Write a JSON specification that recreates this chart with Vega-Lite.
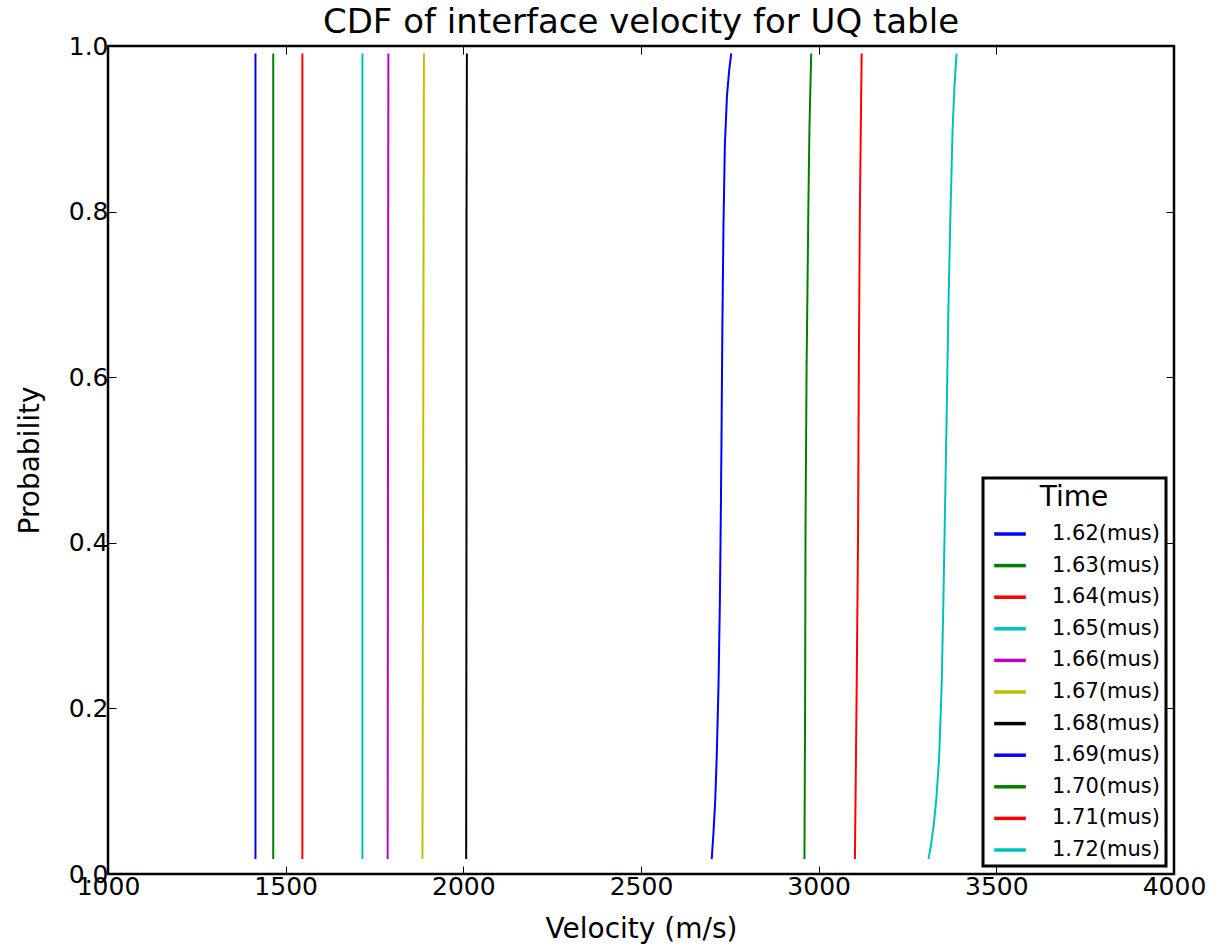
{
  "$schema": "https://vega.github.io/schema/vega-lite/v6.json",
  "autosize": {"type": "none"},
  "width": 1066,
  "height": 828,
  "padding": {"left": 108, "top": 46, "right": 45, "bottom": 72},
  "background": "white",
  "title": {"text": "CDF of interface velocity for UQ table", "font": "DejaVu Sans", "fontSize": 34, "fontWeight": "normal", "color": "black", "offset": -6, "anchor": "middle"},
  "config": {
    "font": "DejaVu Sans",
    "view": {"stroke": "black", "strokeWidth": 2.5},
    "axis": {"labelFont": "DejaVu Sans", "labelFontSize": 25, "labelColor": "black", "titleFont": "DejaVu Sans", "titleFontSize": 28, "titleFontWeight": "normal", "titleColor": "black", "grid": false, "domain": false, "tickColor": "black", "tickWidth": 1, "tickSize": -8, "labelPadding": 8, "labelFlush": false, "labelOverlap": false}
  },
  "data": {"values": [
    {"series": "1.62(mus)", "v": 1415, "p": 0.018}, {"series": "1.62(mus)", "v": 1415, "p": 0.991},
    {"series": "1.63(mus)", "v": 1465, "p": 0.018}, {"series": "1.63(mus)", "v": 1465, "p": 0.991},
    {"series": "1.64(mus)", "v": 1547, "p": 0.018}, {"series": "1.64(mus)", "v": 1547, "p": 0.991},
    {"series": "1.65(mus)", "v": 1716, "p": 0.018}, {"series": "1.65(mus)", "v": 1716, "p": 0.991},
    {"series": "1.66(mus)", "v": 1787, "p": 0.018}, {"series": "1.66(mus)", "v": 1788, "p": 0.5}, {"series": "1.66(mus)", "v": 1789, "p": 0.991},
    {"series": "1.67(mus)", "v": 1885, "p": 0.018}, {"series": "1.67(mus)", "v": 1887, "p": 0.5}, {"series": "1.67(mus)", "v": 1889, "p": 0.991},
    {"series": "1.68(mus)", "v": 2008, "p": 0.018}, {"series": "1.68(mus)", "v": 2009, "p": 0.5}, {"series": "1.68(mus)", "v": 2009, "p": 0.8}, {"series": "1.68(mus)", "v": 2010, "p": 0.991},
    {"series": "1.69(mus)", "v": 2699, "p": 0.018}, {"series": "1.69(mus)", "v": 2704, "p": 0.05}, {"series": "1.69(mus)", "v": 2709, "p": 0.09}, {"series": "1.69(mus)", "v": 2713, "p": 0.14}, {"series": "1.69(mus)", "v": 2718, "p": 0.225}, {"series": "1.69(mus)", "v": 2722, "p": 0.33}, {"series": "1.69(mus)", "v": 2725, "p": 0.45}, {"series": "1.69(mus)", "v": 2727, "p": 0.55}, {"series": "1.69(mus)", "v": 2729, "p": 0.66}, {"series": "1.69(mus)", "v": 2732, "p": 0.78}, {"series": "1.69(mus)", "v": 2736, "p": 0.88}, {"series": "1.69(mus)", "v": 2742, "p": 0.94}, {"series": "1.69(mus)", "v": 2748, "p": 0.97}, {"series": "1.69(mus)", "v": 2754, "p": 0.991},
    {"series": "1.70(mus)", "v": 2960, "p": 0.018}, {"series": "1.70(mus)", "v": 2962, "p": 0.225}, {"series": "1.70(mus)", "v": 2963, "p": 0.418}, {"series": "1.70(mus)", "v": 2966, "p": 0.611}, {"series": "1.70(mus)", "v": 2971, "p": 0.804}, {"series": "1.70(mus)", "v": 2974, "p": 0.9}, {"series": "1.70(mus)", "v": 2979, "p": 0.991},
    {"series": "1.71(mus)", "v": 3102, "p": 0.018}, {"series": "1.71(mus)", "v": 3107, "p": 0.225}, {"series": "1.71(mus)", "v": 3111, "p": 0.418}, {"series": "1.71(mus)", "v": 3113, "p": 0.611}, {"series": "1.71(mus)", "v": 3116, "p": 0.804}, {"series": "1.71(mus)", "v": 3121, "p": 0.991},
    {"series": "1.72(mus)", "v": 3309, "p": 0.018}, {"series": "1.72(mus)", "v": 3316, "p": 0.035}, {"series": "1.72(mus)", "v": 3324, "p": 0.06}, {"series": "1.72(mus)", "v": 3331, "p": 0.09}, {"series": "1.72(mus)", "v": 3339, "p": 0.14}, {"series": "1.72(mus)", "v": 3346, "p": 0.225}, {"series": "1.72(mus)", "v": 3351, "p": 0.33}, {"series": "1.72(mus)", "v": 3356, "p": 0.45}, {"series": "1.72(mus)", "v": 3360, "p": 0.55}, {"series": "1.72(mus)", "v": 3365, "p": 0.68}, {"series": "1.72(mus)", "v": 3371, "p": 0.8}, {"series": "1.72(mus)", "v": 3377, "p": 0.9}, {"series": "1.72(mus)", "v": 3382, "p": 0.95}, {"series": "1.72(mus)", "v": 3388, "p": 0.991}
  ]},
  "layer": [
    {
      "mark": {"type": "line", "strokeWidth": 2},
      "encoding": {
        "x": {"field": "v", "type": "quantitative", "scale": {"domain": [1000, 4000], "nice": false, "zero": false}, "axis": {"title": "Velocity (m/s)", "values": [1000, 1500, 2000, 2500, 3000, 3500, 4000], "format": "d", "titlePadding": 16}},
        "y": {"field": "p", "type": "quantitative", "scale": {"domain": [0, 1], "nice": false}, "axis": {"title": "Probability", "values": [0, 0.2, 0.4, 0.6, 0.8, 1.0], "format": ".1f", "titlePadding": 24}},
        "color": {"field": "series", "type": "nominal", "scale": {"domain": ["1.62(mus)", "1.63(mus)", "1.64(mus)", "1.65(mus)", "1.66(mus)", "1.67(mus)", "1.68(mus)", "1.69(mus)", "1.70(mus)", "1.71(mus)", "1.72(mus)"], "range": ["#0000ff", "#008000", "#ff0000", "#00bfbf", "#bf00bf", "#bfbf00", "#000000", "#0000ff", "#008000", "#ff0000", "#00bfbf"]},
          "legend": {"title": "Time", "orient": "bottom-right", "offset": 8, "titleFontSize": 28, "titleFontWeight": "normal", "titleFont": "DejaVu Sans", "titleColor": "black", "titleAnchor": "middle", "titlePadding": 4, "labelFontSize": 21, "labelFont": "DejaVu Sans", "labelColor": "black", "labelOffset": 24, "symbolType": "stroke", "symbolSize": 1000, "symbolStrokeWidth": 3.5, "symbolOffset": 3, "rowPadding": 3.6, "padding": 6, "fillColor": "white", "strokeColor": "black",
            "encode": {"legend": {"update": {"strokeWidth": {"value": 3}}}}}},
        "order": {"field": "p", "type": "quantitative"}
      }
    },
    {
      "mark": {"type": "point", "opacity": 0},
      "encoding": {
        "x": {"field": "v", "type": "quantitative", "scale": {"domain": [1000, 4000], "nice": false, "zero": false}, "axis": {"orient": "top", "title": null, "labels": false, "values": [1000, 1500, 2000, 2500, 3000, 3500, 4000]}},
        "y": {"field": "p", "type": "quantitative", "scale": {"domain": [0, 1], "nice": false}, "axis": {"orient": "right", "title": null, "labels": false, "values": [0, 0.2, 0.4, 0.6, 0.8, 1.0]}}
      }
    }
  ],
  "resolve": {"axis": {"x": "independent", "y": "independent"}}
}
